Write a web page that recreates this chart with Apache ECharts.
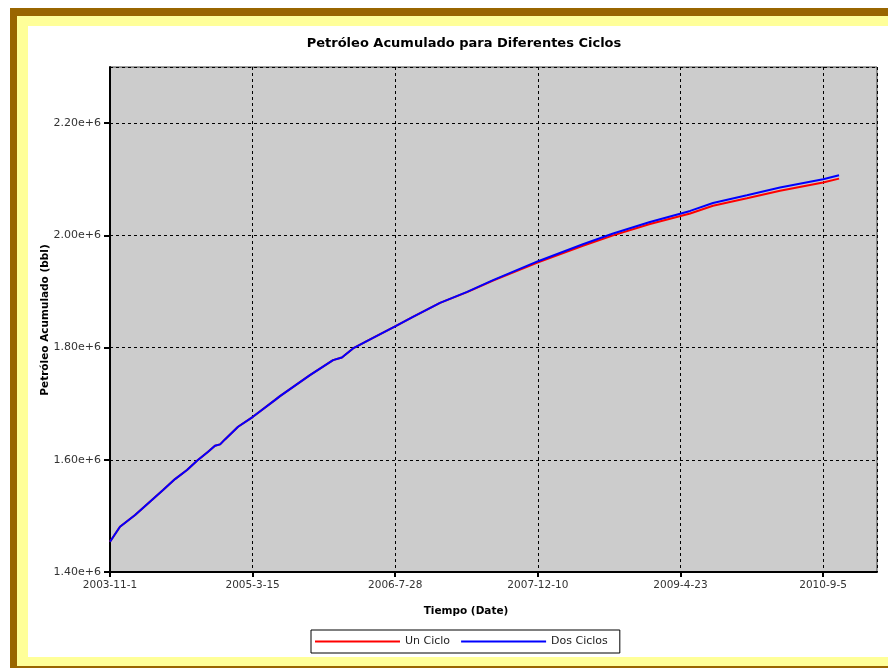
<!DOCTYPE html>
<html>
<head>
<meta charset="utf-8">
<script src="https://cdn.jsdelivr.net/npm/echarts@6/dist/echarts.min.js"></script>
<style>
  html, body { margin: 0; padding: 0; background: #ffffff; }
  #chart { width: 888px; height: 668px; }
</style>
</head>
<body>
<div id="chart"></div>
<script>
// Start date of the time axis (day 0)
const startDate = [2003, 11, 1];
// Days since 2003-11-1 for each sample
const dias = [0, 35, 88, 140, 186, 228, 270, 305, 344, 368, 386, 403, 449, 501, 578, 596, 701, 782, 813, 852, 912, 1003, 1062, 1157, 1252, 1343, 1501, 1658, 1764, 1893, 2034, 2114, 2233, 2349, 2500, 2556];
// Cumulative oil (bbl)
const dosCiclos = [1454000, 1480700, 1501500, 1525200, 1546000, 1565600, 1581700, 1598200, 1614300, 1624900, 1627400, 1636300, 1658800, 1676600, 1706300, 1713500, 1750900, 1777600, 1782400, 1798400, 1814400, 1838700, 1854700, 1879600, 1899200, 1920100, 1953900, 1984200, 2003200, 2023900, 2043500, 2057700, 2071400, 2085100, 2099900, 2107100];
const unCiclo = [1454000, 1480700, 1501500, 1525200, 1546000, 1565600, 1581700, 1598200, 1614300, 1624900, 1627400, 1636300, 1658800, 1676600, 1706300, 1713500, 1750900, 1777600, 1782400, 1798400, 1814400, 1838700, 1854700, 1879600, 1898700, 1919200, 1952100, 1981500, 2000000, 2020300, 2039000, 2052700, 2066100, 2079600, 2094200, 2101100];
const seriesNames = ['Un Ciclo', 'Dos Ciclos'];
const titleText = 'Petróleo Acumulado para Diferentes Ciclos';
const xName = 'Tiempo (Date)';
const yName = 'Petróleo Acumulado (bbl)';

const startMs = Date.UTC(startDate[0], startDate[1] - 1, startDate[2]);
function dayLabel(v) {
  const d = new Date(startMs + v * 86400000);
  return d.getUTCFullYear() + '-' + (d.getUTCMonth() + 1) + '-' + d.getUTCDate();
}
const pairs = (vals) => dias.map((d, i) => [d, vals[i]]);

const FONT = '"DejaVu Sans", Verdana, sans-serif';
const chart = echarts.init(document.getElementById('chart'), null, { renderer: 'canvas' });
chart.setOption({
  backgroundColor: '#ffffff',
  animation: false,
  graphic: [
    { type: 'rect', z: -10, silent: true, shape: { x: 10, y: 8, width: 900, height: 700 }, style: { fill: '#996600' } },
    { type: 'rect', z: -9, silent: true, shape: { x: 17, y: 16, width: 900, height: 650 }, style: { fill: '#FFFF99' } },
    { type: 'rect', z: -8, silent: true, shape: { x: 28, y: 26, width: 900, height: 631 }, style: { fill: '#ffffff' } },
    { type: 'text', z: 10, x: 464, y: 44, style: { text: titleText, font: 'bold 13px ' + FONT, fill: '#000', align: 'center', verticalAlign: 'middle' } },
    { type: 'text', z: 10, x: 466, y: 611, style: { text: xName, font: 'bold 10.5px ' + FONT, fill: '#000', align: 'center', verticalAlign: 'middle' } },
    { type: 'text', z: 10, x: 45, y: 320, rotation: Math.PI / 2, style: { text: yName, font: 'bold 10.5px ' + FONT, fill: '#000', align: 'center', verticalAlign: 'middle' } }
  ],
  legend: {
    left: 311, top: 630,
    data: seriesNames,
    icon: 'rect',
    itemWidth: 85, itemHeight: 2,
    itemGap: 11,
    padding: [6, 12, 6, 4],
    borderColor: '#000', borderWidth: 1,
    textStyle: { fontFamily: FONT, fontSize: 11, color: '#222' }
  },
  grid: {
    left: 110, top: 67, right: 11, bottom: 96,
    show: true, backgroundColor: '#CCCCCC', borderColor: '#444', borderWidth: 1,
    containLabel: false
  },
  xAxis: {
    type: 'value', min: 0, max: 2689, interval: 500,
    axisLine: { show: true, onZero: false, lineStyle: { color: '#000', width: 2 } },
    axisTick: { show: true, length: 5, lineStyle: { color: '#000', width: 2 } },
    axisLabel: { formatter: dayLabel, fontFamily: FONT, fontSize: 10.5, color: '#333', margin: 8, showMaxLabel: false },
    splitLine: { show: true, lineStyle: { color: '#000', type: [3, 3], width: 1 } }
  },
  yAxis: {
    type: 'value', min: 1400000, max: 2300000, interval: 200000,
    axisLine: { show: true, onZero: false, lineStyle: { color: '#000', width: 2 } },
    axisTick: { show: true, length: 6, lineStyle: { color: '#000', width: 2 } },
    axisLabel: { formatter: (v) => v.toExponential(2), fontFamily: FONT, fontSize: 11, color: '#333', margin: 9, showMaxLabel: false },
    splitLine: { show: true, lineStyle: { color: '#000', type: [3, 3], width: 1 } }
  },
  series: [
    { name: seriesNames[0], type: 'line', data: pairs(unCiclo), showSymbol: false, symbol: 'none', lineStyle: { color: '#FF0000', width: 2 }, itemStyle: { color: '#FF0000' } },
    { name: seriesNames[1], type: 'line', data: pairs(dosCiclos), showSymbol: false, symbol: 'none', lineStyle: { color: '#0000FF', width: 2 }, itemStyle: { color: '#0000FF' } }
  ]
});
</script>
</body>
</html>
